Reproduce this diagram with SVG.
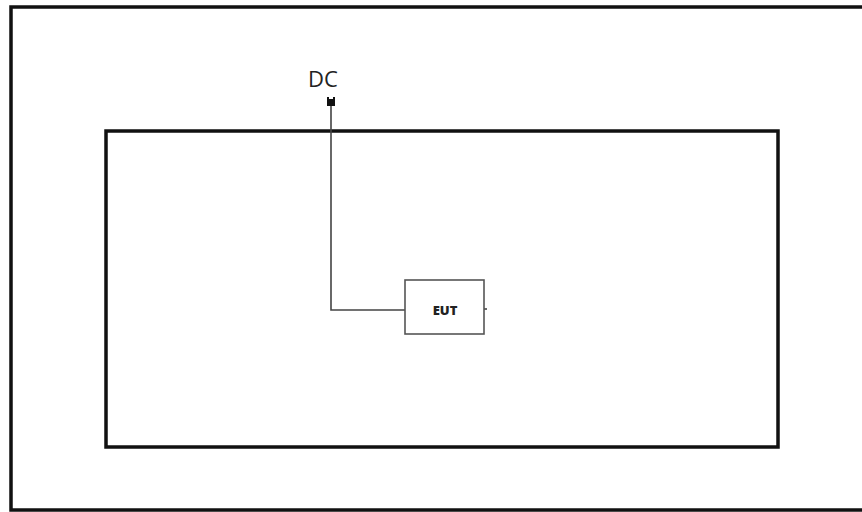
<svg xmlns="http://www.w3.org/2000/svg" width="862" height="512" viewBox="0 0 862 512">
<style>
.frame{fill:none;stroke:#111;stroke-width:3.5}
.wire{fill:none;stroke:#444;stroke-width:1.6}
.lbl{font-family:"Open Sans","DejaVu Sans",sans-serif;fill:#222}
</style>
<rect width="862" height="512" fill="#fff"/>
<g id="chamber"><rect class="frame" x="11" y="7" width="880" height="503"/></g>
<g id="table"><rect class="frame" x="106" y="131" width="672" height="316"/></g>
<g id="connectors">
<polyline class="wire" points="331,104 331,310 405,310"/>
<line class="wire" x1="484" y1="309" x2="487" y2="309"/>
</g>
<g id="dc">
<text class="lbl" x="323" y="87" font-size="22" text-anchor="middle">DC</text>
<path d="M327,97 h2 v2 h4 v-2 h2 v9 h-8 z" fill="#111"/>
</g>
<g id="eut">
<rect x="405" y="280" width="79" height="54" fill="#fff" stroke="#555" stroke-width="1.6"/>
<text class="lbl" x="445" y="315" font-size="13" font-weight="800" text-anchor="middle">EUT</text>
</g>
</svg>
